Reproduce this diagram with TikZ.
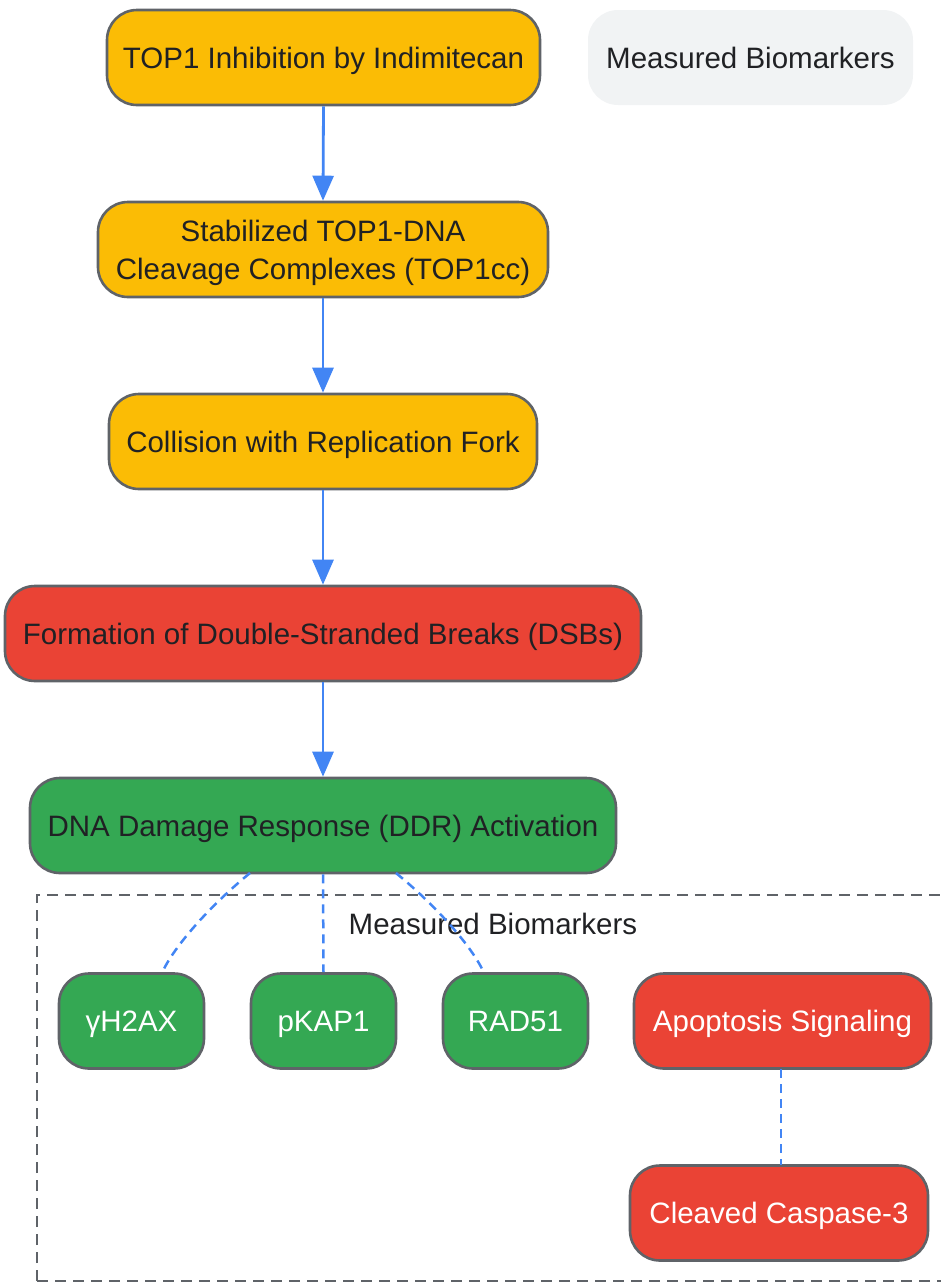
\documentclass[tikz,border=0pt]{standalone}
\usepackage{fontspec}
\setmainfont{Liberation Sans}
\usetikzlibrary{arrows.meta}
\definecolor{orangeF}{HTML}{FBBC05}
\definecolor{redF}{HTML}{EA4335}
\definecolor{greenF}{HTML}{34A853}
\definecolor{greyF}{HTML}{F1F3F4}
\definecolor{borderC}{HTML}{5F6368}
\definecolor{textD}{HTML}{202124}
\definecolor{blueC}{HTML}{4285F4}
\begin{document}
\begin{tikzpicture}[x=1pt,y=-1pt,
  box/.style={draw=borderC, line width=2.6pt, rounded corners=30pt, minimum height=95pt,
    inner sep=0pt, align=center, font=\fontsize{29.5}{38}\selectfont},
  onebox/.style={text height=21pt, text depth=0pt},
  orangebox/.style={box, fill=orangeF, text=textD},
  redbox/.style={box, fill=redF, text=textD},
  greenbox/.style={box, fill=greenF, text=textD},
  markgreen/.style={box, onebox, fill=greenF, text=white},
  markred/.style={box, onebox, fill=redF, text=white},
  flow/.style={draw=blueC, line width=2.8pt, -{Triangle[length=25pt,width=21pt]}},
  link/.style={draw=blueC, line width=2.5pt, dash pattern=on 9pt off 6pt},
  frame/.style={draw=borderC, line width=2.5pt, dash pattern=on 11pt off 7pt}
]
\useasboundingbox (0,0) rectangle (941,1283);

% group frame
\draw[frame] (37,1281) -- (37,895) -- (950,895);
\draw[frame] (37,1281) -- (950,1281);
\node[text=textD, onebox, font=\fontsize{29.5}{35}\selectfont] (grp) at (493,924) {Measured Biomarkers};

% legend
\node[fill=greyF, rounded corners=30pt, minimum width=325pt, minimum height=95pt, inner sep=0pt,
  onebox, text=textD, font=\fontsize{29.5}{35}\selectfont] (legend) at (750.5,57.5) {Measured Biomarkers};

% main chain
\node[orangebox, onebox, minimum width=433pt] (a) at (323.5,57.5) {TOP1 Inhibition by Indimitecan};
\node[orangebox, minimum width=450pt,
  label={[align=center, yshift=-3.5pt, text=textD, font=\fontsize{29.5}{38}\selectfont]center:{Stabilized TOP1-DNA\\Cleavage Complexes (TOP1cc)}}] (b) at (323,249.5) {};
\node[orangebox, onebox, minimum width=428pt] (c) at (323,441.5) {Collision with Replication Fork};
\node[redbox, onebox, minimum width=636pt] (d) at (323,633.5) {Formation of Double-Stranded Breaks (DSBs)};
\node[greenbox, onebox, minimum width=586pt] (e) at (323,825.5) {DNA Damage Response (DDR) Activation};

% markers
\node[markgreen, minimum width=145pt] (m1) at (131.5,1021) {γH2AX};
\node[markgreen, minimum width=145pt] (m2) at (323.5,1021) {pKAP1};
\node[markgreen, minimum width=145pt] (m3) at (515.5,1021) {RAD51};
\node[markred, minimum width=297pt] (ap) at (782.5,1021) {Apoptosis Signaling};
\node[markred, minimum width=298pt] (cc) at (779,1213) {Cleaved Caspase-3};

% flow arrows
\draw[flow] (a.south) -- (b.north);
\draw[flow] (b.south) -- (c.north);
\draw[flow] (c.south) -- (d.north);
\draw[flow] (d.south) -- (e.north);

% dashed links
\coordinate (e1) at (250,873);
\coordinate (e3) at (396,873);
\coordinate (t1) at (162,973);
\coordinate (t3) at (484,973);
\coordinate (ap1) at (781,1069);
\coordinate (cc1) at (781,1165);
\draw[link] (e1) .. controls (205,910) and (172,950) .. (t1);
\draw[link] (e.south) -- (m2.north);
\draw[link] (e3) .. controls (441,910) and (474,950) .. (t3);
\draw[link] (ap1) -- (cc1);
\end{tikzpicture}
\end{document}
